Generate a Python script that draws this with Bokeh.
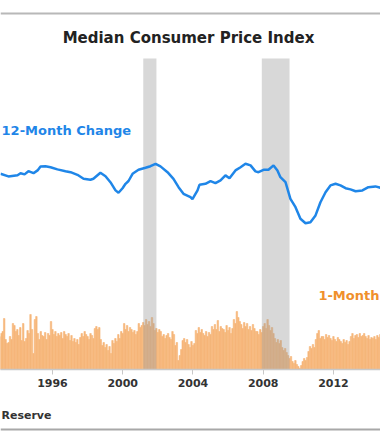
from bokeh.plotting import figure
from bokeh.layouts import column
from bokeh.models import Range1d, Label, Span, FixedTicker
from bokeh.embed import file_html
from bokeh.resources import INLINE

# 12-month change of the median CPI (%), decimal years
yr12 = [1993.04, 1993.49, 1994.01, 1994.18, 1994.41, 1994.63, 1994.92, 1995.15, 1995.32, 1995.60,
        1995.89, 1996.28, 1996.74, 1997.03, 1997.42, 1997.77, 1998.16, 1998.33, 1998.73, 1999.02,
        1999.30, 1999.59, 1999.76, 1999.99, 2000.16, 2000.33, 2000.56, 2000.90, 2001.30, 2001.58,
        2001.87, 2002.15, 2002.55, 2002.89, 2003.18, 2003.46, 2003.86, 2003.97, 2004.26, 2004.37,
        2004.71, 2005.00, 2005.28, 2005.57, 2005.85, 2006.08, 2006.42, 2006.71, 2006.99, 2007.28,
        2007.56, 2007.73, 2008.02, 2008.30, 2008.59, 2008.81, 2008.98, 2009.27, 2009.55, 2009.84,
        2010.12, 2010.41, 2010.69, 2010.98, 2011.26, 2011.55, 2011.83, 2012.12, 2012.40, 2012.69,
        2012.97, 2013.26, 2013.65, 2013.99, 2014.39, 2014.68]
chg12 = [3.07, 2.94, 3.00, 3.10, 3.04, 3.20, 3.10, 3.24, 3.44, 3.45,
         3.40, 3.29, 3.20, 3.15, 3.02, 2.82, 2.77, 2.82, 3.12, 2.95,
         2.65, 2.24, 2.12, 2.35, 2.57, 2.71, 3.07, 3.27, 3.37, 3.45,
         3.57, 3.44, 3.15, 2.82, 2.40, 2.07, 1.90, 1.80, 2.24, 2.52,
         2.57, 2.70, 2.60, 2.74, 2.99, 2.85, 3.24, 3.40, 3.57, 3.49,
         3.19, 3.15, 3.27, 3.27, 3.49, 3.24, 2.90, 2.65, 1.82, 1.40,
         0.82, 0.60, 0.65, 0.99, 1.65, 2.15, 2.49, 2.57, 2.49, 2.35,
         2.29, 2.20, 2.24, 2.40, 2.44, 2.37]

# 1-month change, annualized (%), monthly from January 1993
first_month = 1993.0
chg1 = [3.3, 3.6, 3.8, 5.1, 3.0, 2.6,
        2.7, 3.3, 3.0, 4.6, 4.4, 3.8, 4.0, 3.4, 4.2, 2.9, 4.6, 2.8, 3.1, 3.9, 3.6, 5.5, 4.0, 1.6, 5.0, 5.3,
        3.6, 3.0, 3.8, 3.4, 3.3, 3.7, 3.0, 3.6, 3.4, 4.8, 4.0, 3.5, 3.8, 3.3, 3.6, 3.4, 3.7, 3.1, 3.8, 3.5,
        3.3, 3.6, 2.9, 3.4, 2.8, 3.1, 2.7, 3.0, 2.5, 3.2, 3.6, 3.3, 3.8, 3.5, 3.3, 3.0, 3.6, 3.4, 3.1, 4.1,
        4.3, 4.0, 4.2, 3.0, 2.4, 2.7, 2.2, 2.5, 1.9, 2.3, 1.6, 2.9, 2.6, 3.1, 2.8, 3.5, 3.1, 3.8, 3.6, 4.6,
        4.0, 4.4, 3.8, 4.2, 4.0, 3.7, 3.9, 3.5, 3.8, 4.6, 4.2, 4.4, 4.7, 4.4, 5.0, 4.5, 4.8, 4.3, 5.2, 4.6,
        3.9, 4.1, 3.7, 4.0, 3.8, 3.3, 3.5, 3.1, 3.4, 3.6, 3.2, 3.0, 3.8, 3.5, 2.4, 2.7, 0.9, 1.4, 2.0, 2.9,
        3.1, 2.7, 3.0, 2.5, 2.2, 2.8, 2.4, 2.6, 3.9, 3.6, 4.2, 3.7, 4.0, 3.6, 3.4, 3.8, 3.3, 3.7, 3.5, 4.3,
        4.0, 4.5, 4.0, 4.9, 3.8, 4.3, 4.1, 4.0, 3.7, 4.4, 3.9, 4.2, 3.6, 4.1, 5.0, 4.6, 5.8, 5.2, 4.8, 4.5,
        4.1, 4.7, 4.3, 4.6, 4.0, 4.3, 3.9, 4.5, 4.1, 3.8, 3.8, 3.5, 4.0, 3.7, 4.3, 4.6, 4.1, 5.0, 4.4, 3.9,
        4.2, 3.6, 3.1, 2.7, 3.0, 2.6, 2.9, 2.2, 1.9, 2.1, 1.7, 1.4, 1.1, 1.3, 0.8, 0.6, 0.9, 0.5, 0.3, 0.1,
        0.4, 0.8, 1.1, 0.9, 1.2, 1.8, 2.3, 2.1, 2.5, 2.2, 3.0, 3.6, 3.9, 3.1, 3.3, 3.3, 3.0, 3.5, 3.2, 3.4,
        3.1, 2.9, 3.3, 3.0, 2.8, 3.2, 3.0, 2.8, 2.6, 3.0, 2.7, 2.9, 2.5, 2.8, 3.3, 3.6, 3.1, 3.4, 3.5, 3.2,
        3.6, 3.3, 3.4, 3.6, 3.3, 3.1, 3.4, 3.0, 3.2, 3.1, 3.3, 3.0, 3.4, 3.2, 3.5]

# NBER recessions (decimal years)
rec_start = [2001.17, 2007.92]
rec_end = [2001.92, 2009.50]

tick_years = [1996, 2000, 2004, 2008, 2012]

title_text = "Median Consumer Price Index"
label12 = "12-Month Change"
label1 = "1-Month"
source_text = "Reserve"

X0, X1 = 1993.04, 2014.68
Y0, Y1 = -6.715, 11.735

BLUE = "#1f86e8"
BAR = "#f6b77b"
ORANGE_TXT = "#f0902c"

p = figure(width=380, height=392, x_range=Range1d(X0, X1), y_range=Range1d(Y0, Y1),
           output_backend="svg", toolbar_location=None, y_axis_location=None,
           min_border_left=0, min_border_right=0, min_border_top=0, min_border_bottom=23)
p.extra_y_ranges = {"mom": Range1d(0, 36.9)}
p.xgrid.visible = False
p.ygrid.visible = False
p.outline_line_color = None

months = [first_month + i / 12 for i in range(len(chg1))]
p.vbar(x=months, top=chg1, bottom=0, width=1 / 12, y_range_name="mom",
       fill_color=BAR, line_color=BAR, line_width=0.6)

p.quad(left=rec_start, right=rec_end, bottom=Y0, top=8.835,
       fill_color="#9e9e9e", fill_alpha=0.4, line_color=None)

p.line(yr12, chg12, line_color=BLUE, line_width=2.5)

ax = p.xaxis[0]
ax.ticker = FixedTicker(ticks=tick_years)
ax.axis_line_color = "#c8c8c8"
ax.axis_line_width = 1.5
ax.major_tick_line_color = "#c8c8c8"
ax.major_tick_out = 5
ax.major_tick_in = 0
ax.minor_tick_line_color = None
ax.major_label_standoff = 4
ax.major_label_text_font = "DejaVu Sans"
ax.major_label_text_font_style = "bold"
ax.major_label_text_font_size = "11px"
ax.major_label_text_color = "#333333"

p.add_layout(Span(location=11.085, dimension="width", line_color="#b8b8b8", line_width=2))

p.add_layout(Label(x=2003.745, y=9.885, text=title_text, text_align="center", text_baseline="middle",
                   text_font="DejaVu Sans", text_font_style="bold", text_font_size="15px",
                   text_color="#222222"))
p.add_layout(Label(x=1993.10, y=5.235, text=label12, text_align="left", text_baseline="middle",
                   text_font="DejaVu Sans", text_font_style="bold", text_font_size="13px",
                   text_color=BLUE))
p.add_layout(Label(x=2014.62, y=-3.015, text=label1, text_align="right", text_baseline="middle",
                   text_font="DejaVu Sans", text_font_style="bold", text_font_size="13px",
                   text_color=ORANGE_TXT))

# footer: source line and bottom rule
f = figure(width=380, height=48, x_range=Range1d(0, 380), y_range=Range1d(48, 0),
           output_backend="svg", toolbar_location=None, x_axis_location=None, y_axis_location=None,
           min_border_left=0, min_border_right=0, min_border_top=0, min_border_bottom=0)
f.xgrid.visible = False
f.ygrid.visible = False
f.outline_line_color = None
f.add_layout(Label(x=1, y=23, text=source_text, text_align="left", text_baseline="middle",
                   text_font="DejaVu Sans", text_font_style="bold", text_font_size="11px",
                   text_color="#333333"))
f.add_layout(Span(location=37, dimension="width", line_color="#a8a8a8", line_width=2))

layout = column(p, f, spacing=0)
open("out.html", "w").write(file_html(layout, INLINE))
